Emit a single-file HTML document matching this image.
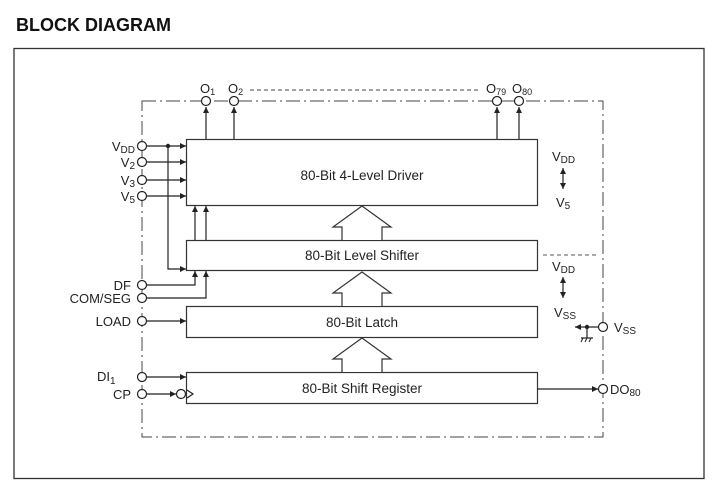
<!DOCTYPE html>
<html><head><meta charset="utf-8"><style>
html,body{margin:0;padding:0;background:#fff;}
svg{display:block;}
text{font-family:"Liberation Sans",sans-serif;fill:#222;}
</style></head><body>
<svg width="721" height="489" viewBox="0 0 721 489" xmlns="http://www.w3.org/2000/svg">
<defs>
<marker id="a" viewBox="0 0 10 10" refX="10" refY="5" markerWidth="7" markerHeight="6" orient="auto" markerUnits="userSpaceOnUse"><path d="M0,0L10,5L0,10z" fill="#222"/></marker>
</defs>
<text x="16" y="31" font-size="18" font-weight="bold" style="fill:#111">BLOCK DIAGRAM</text>
<rect x="14" y="48.5" width="690" height="430" fill="none" stroke="#333" stroke-width="1.3"/>
<path d="M142,101H603V437H142Z" fill="none" stroke="#444" stroke-width="1" stroke-dasharray="14,4,2,4"/>
<line x1="250" y1="90" x2="480" y2="90" stroke="#444" stroke-dasharray="4,3"/>
<g fill="#fff" stroke="#333" stroke-width="1.2">
<rect x="186.5" y="139.5" width="351" height="66"/>
<rect x="186.5" y="240.5" width="351" height="30"/>
<rect x="186.5" y="306.5" width="351" height="31"/>
<rect x="186.5" y="372.5" width="351" height="31"/>
</g>
<g font-size="13.5" text-anchor="middle">
<text x="362" y="180">80-Bit 4-Level Driver</text>
<text x="362" y="260">80-Bit Level Shifter</text>
<text x="362" y="327">80-Bit Latch</text>
<text x="362" y="393">80-Bit Shift Register</text>
</g>
<g fill="#fff" stroke="#333" stroke-width="1.2">
<path d="M342,240V227H333L362,206L391,227H382V240"/>
<path d="M342,306V293H333L362,272L391,293H382V306"/>
<path d="M342,372V359H333L362,338L391,359H382V372"/>
</g>
<g stroke="#222" stroke-width="1.2" fill="none">
<line x1="206" y1="139" x2="206" y2="107" marker-end="url(#a)"/>
<line x1="234" y1="139" x2="234" y2="107" marker-end="url(#a)"/>
<line x1="497" y1="139" x2="497" y2="107" marker-end="url(#a)"/>
<line x1="519" y1="139" x2="519" y2="107" marker-end="url(#a)"/>
<line x1="147" y1="146" x2="186" y2="146" marker-end="url(#a)"/>
<line x1="147" y1="162" x2="186" y2="162" marker-end="url(#a)"/>
<line x1="147" y1="180" x2="186" y2="180" marker-end="url(#a)"/>
<line x1="147" y1="196" x2="186" y2="196" marker-end="url(#a)"/>
<path d="M168,146V269H186" marker-end="url(#a)"/>
<line x1="195" y1="240" x2="195" y2="206" marker-end="url(#a)"/>
<line x1="206" y1="240" x2="206" y2="206" marker-end="url(#a)"/>
<path d="M147,285H195V271" marker-end="url(#a)"/>
<path d="M147,298H206V271" marker-end="url(#a)"/>
<line x1="147" y1="321" x2="186" y2="321" marker-end="url(#a)"/>
<line x1="147" y1="377" x2="186" y2="377" marker-end="url(#a)"/>
<line x1="147" y1="394" x2="176" y2="394" marker-end="url(#a)"/>
<path d="M187,390L193,394L187,398"/>
<line x1="537" y1="389" x2="598" y2="389" marker-end="url(#a)"/>
<line x1="598" y1="327" x2="575" y2="327" marker-end="url(#a)"/>
<line x1="587" y1="327" x2="587" y2="338"/>
<line x1="581" y1="338" x2="593" y2="338"/>
<path d="M583,338l-2,4M587,338l-2,4M591,338l-2,4" stroke-width="1"/>
<line x1="563" y1="178" x2="563" y2="168" marker-end="url(#a)"/>
<line x1="563" y1="178" x2="563" y2="189" marker-end="url(#a)"/>
<line x1="563" y1="287" x2="563" y2="277" marker-end="url(#a)"/>
<line x1="563" y1="287" x2="563" y2="298" marker-end="url(#a)"/>
</g>
<circle cx="168" cy="146" r="2.2" fill="#222"/>
<circle cx="587" cy="327" r="2.2" fill="#222"/>
<line x1="543" y1="255" x2="597" y2="255" stroke="#555" stroke-dasharray="4,3"/>
<g fill="#fff" stroke="#222" stroke-width="1.2">
<circle cx="142" cy="146" r="4.5"/><circle cx="142" cy="162" r="4.5"/>
<circle cx="142" cy="180" r="4.5"/><circle cx="142" cy="196" r="4.5"/>
<circle cx="142" cy="285" r="4.5"/><circle cx="142" cy="298" r="4.5"/>
<circle cx="142" cy="321" r="4.5"/><circle cx="142" cy="377" r="4.5"/>
<circle cx="142" cy="394" r="4.5"/>
<circle cx="206" cy="101" r="4.5"/><circle cx="234" cy="101" r="4.5"/>
<circle cx="497" cy="101" r="4.5"/><circle cx="519" cy="101" r="4.5"/>
<circle cx="603" cy="327" r="4.5"/><circle cx="603" cy="389" r="4.5"/>
<circle cx="181" cy="394" r="4.5"/>
</g>
<g font-size="13">
<text x="200" y="93">O<tspan font-size="9" dy="2">1</tspan></text>
<text x="228" y="93">O<tspan font-size="9" dy="2">2</tspan></text>
<text x="486" y="93">O<tspan font-size="9" dy="2">79</tspan></text>
<text x="512" y="93">O<tspan font-size="9" dy="2">80</tspan></text>
<text x="135" y="151" text-anchor="end">V<tspan font-size="10" dy="2">DD</tspan></text>
<text x="135" y="167" text-anchor="end">V<tspan font-size="10" dy="2">2</tspan></text>
<text x="135" y="185" text-anchor="end">V<tspan font-size="10" dy="2">3</tspan></text>
<text x="135" y="201" text-anchor="end">V<tspan font-size="10" dy="2">5</tspan></text>
<text x="131" y="290" text-anchor="end">DF</text>
<text x="131" y="303" text-anchor="end">COM/SEG</text>
<text x="131" y="326" text-anchor="end">LOAD</text>
<text x="97" y="381">DI<tspan font-size="10" dy="3">1</tspan></text>
<text x="131" y="399" text-anchor="end">CP</text>
<text x="552" y="161">V<tspan font-size="10" dy="2">DD</tspan></text>
<text x="556" y="207">V<tspan font-size="10" dy="2">5</tspan></text>
<text x="552" y="271">V<tspan font-size="10" dy="2">DD</tspan></text>
<text x="554" y="317">V<tspan font-size="10" dy="2">SS</tspan></text>
<text x="614" y="332">V<tspan font-size="10" dy="2">SS</tspan></text>
<text x="610" y="394">DO<tspan font-size="10" dy="2">80</tspan></text>
</g>
</svg>
</body></html>
